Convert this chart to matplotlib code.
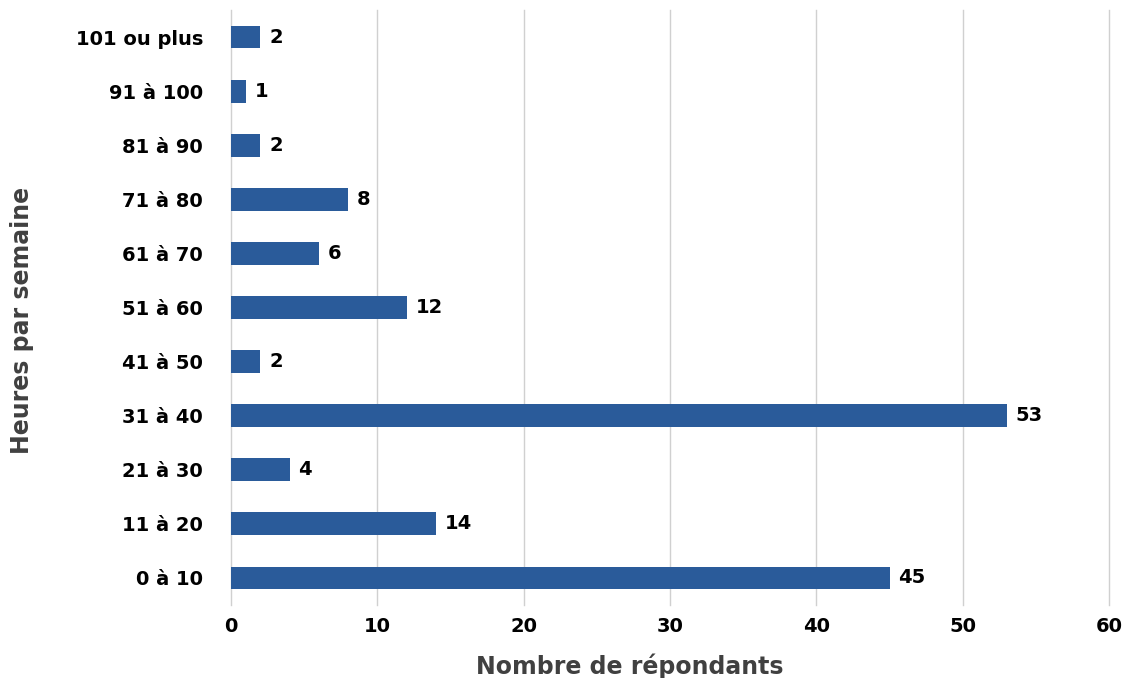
import matplotlib.pyplot as plt
import numpy as np

categories = ['0 à 10', '11 à 20', '21 à 30', '31 à 40', '41 à 50', '51 à 60',
              '61 à 70', '71 à 80', '81 à 90', '91 à 100', '101 ou plus']
values = [45, 14, 4, 53, 2, 12, 6, 8, 2, 1, 2]
xticks = [0, 10, 20, 30, 40, 50, 60]

plt.rcParams['font.family'] = ['DejaVu Sans']
plt.rcParams['font.weight'] = 'bold'

fig = plt.figure(figsize=(11.25, 6.78), dpi=100)
ax = fig.add_axes([0.2053, 0.1077, 0.7805, 0.8775])

y = np.arange(len(categories))
ax.barh(y, values, height=0.42, color='#2a5b9a', zorder=3)
for yi, v in zip(y, values):
    ax.text(v + 0.6, yi, str(v), va='center', ha='left', fontsize=14,
            fontweight='bold', color='black')

ax.set_xlim(0, 60)
ax.set_ylim(-0.5, len(categories) - 0.5)
ax.set_xticks(xticks)
ax.set_yticks(y)
ax.set_yticklabels(categories)
ax.tick_params(axis='both', length=0, labelsize=14, colors='black')
ax.tick_params(axis='x', pad=9)
ax.tick_params(axis='y', pad=20)
for lab in ax.get_xticklabels() + ax.get_yticklabels():
    lab.set_fontweight('bold')

# vertical gridlines (drawn unclipped so the 0 and 60 lines show fully)
for t in xticks:
    ax.axvline(t, color='#d0d0d0', linewidth=1, zorder=0, clip_on=False)
for s in ax.spines.values():
    s.set_visible(False)

fig.text(0.56, 0.018, 'Nombre de répondants', ha='center', va='center',
         fontsize=17, fontweight='bold', color='#404040')
fig.text(0.02, 0.528, 'Heures par semaine', ha='center', va='center',
         rotation=90, fontsize=17, fontweight='bold', color='#404040')

fig.savefig('out.png', dpi=100)
